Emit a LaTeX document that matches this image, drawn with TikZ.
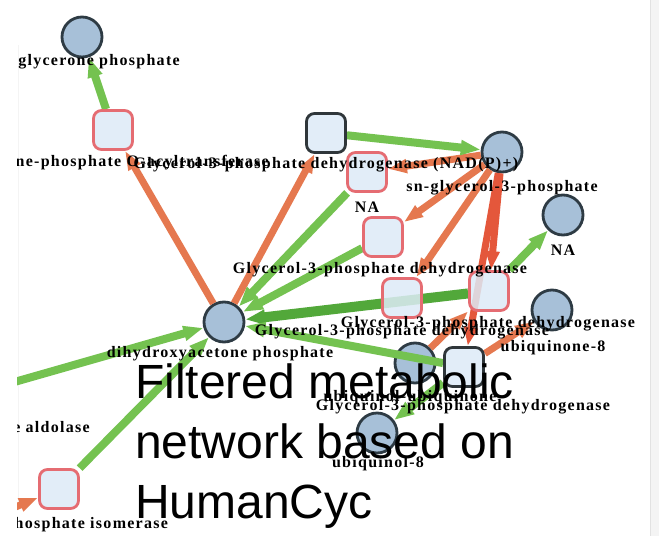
\documentclass[tikz,border=0pt]{standalone}
\usepackage{fontspec}
\setmainfont{Liberation Serif}
\newfontfamily\lblfont{Liberation Serif}[LetterSpace=8]
\newfontfamily\titlefont{Liberation Sans}
\usetikzlibrary{arrows.meta}

\definecolor{metfill}{HTML}{A7C0D8}
\definecolor{metline}{HTML}{2E3B44}
\definecolor{enzfill}{HTML}{DDEBF7}
\definecolor{enzred}{HTML}{E56C72}
\definecolor{enzdark}{HTML}{2F363A}
\definecolor{edgegreen}{HTML}{74C250}
\definecolor{greendark}{HTML}{52A83A}
\definecolor{edgeorange}{HTML}{E5784F}
\definecolor{redorange}{HTML}{E4573B}
\definecolor{panelgray}{HTML}{F4F4F4}
\definecolor{panelline}{HTML}{E2E2E2}

\tikzset{
  met/.style={circle, draw=metline, fill=metfill, line width=2.8pt,
    minimum size=40pt, inner sep=0pt},
  enz/.style={rectangle, rounded corners=8pt, draw=enzred, fill=enzfill,
    fill opacity=0.85, draw opacity=1, line width=2.8pt, minimum size=39pt, inner sep=0pt},
  enzdk/.style={enz, draw=enzdark},
  lbl/.style={inner sep=0pt, text=black,
    font=\lblfont\bfseries\fontsize{16}{17}\selectfont},
  prod/.style={draw=edgegreen, line width=8pt,
    -{Triangle[length=20pt,width=14pt]}},
  subs/.style={draw=edgeorange, line width=7pt,
    -{Triangle[length=19pt,width=13pt]}},
}

\begin{document}
\begin{tikzpicture}[x=1pt, y=-1pt]
\useasboundingbox (0,0) rectangle (659,536);
\fill[white] (0,0) rectangle (659,536);
% side panel strip and faint frame lines
\fill[panelgray] (650,0) rectangle (659,536);
\draw[panelline, line width=1pt] (650,0) -- (650,536);
\draw[panelline!40, line width=0.6pt] (18,45) -- (18,505);

\begin{scope}
\clip (17,0) rectangle (650,536);

% coordinates of nodes lying outside the panel
\coordinate (aldo) at (-38,397);
\coordinate (gap) at (-40,530);

% metabolites
\node[met] (A) at (82,37) {};
\node[met] (D) at (502,152) {};
\node[met] (G) at (563,215) {};
\node[met] (H) at (224,322) {};
\node[met] (K) at (552,310) {};
\node[met] (L) at (415,363) {};
\node[met] (N) at (377,433) {};

% enzymes (placed now, drawn later on top of the edges)
\path (113,130) coordinate (Bc) (326,133) coordinate (Cc)
      (367,172) coordinate (Ec) (383,237) coordinate (Fc)
      (402,298) coordinate (Ic) (489,291) coordinate (Jc)
      (464,367) coordinate (Mc) (59,489) coordinate (Oc);
\node[enz, draw=none, fill=none] (B) at (Bc) {};
\node[enz, draw=none, fill=none] (C) at (Cc) {};
\node[enz, draw=none, fill=none] (E) at (Ec) {};
\node[enz, draw=none, fill=none] (F) at (Fc) {};
\node[enz, draw=none, fill=none] (I) at (Ic) {};
\node[enz, draw=none, fill=none] (J) at (Jc) {};
\node[enz, draw=none, fill=none] (M) at (Mc) {};
\node[enz, draw=none, fill=none] (O) at (Oc) {};

% substrate edges
\draw[subs] (H) -- (B);
\draw[subs] (H) -- (C);
\draw[subs] (D) -- (E);
\draw[subs] (D) -- (F);
\draw[subs] (D) -- (I);
\draw[subs, draw=redorange] (D) -- (J);
\draw[subs, draw=redorange] (D) -- (M);
\draw[subs] (L) -- (J);
\draw[subs] (M) -- (K);
\draw[subs] (gap) -- (O);

% product edges
\draw[prod] (B) -- (A);
\draw[prod] (C) -- (D);
\draw[prod] (E) -- (H);
\draw[prod] (F) -- (H);
\draw[prod, draw=greendark, line width=10pt] (J) -- (H);
\draw[prod] (O) -- (H);
\draw[prod] (aldo) -- (H);
\draw[prod] (J) -- (G);
\draw[prod] (M) -- (H);
\draw[prod] (M) -- (N);

% enzyme boxes
\node[enz] at (Bc) {};
\node[enzdk] at (Cc) {};
\node[enz] at (Ec) {};
\node[enz] at (Fc) {};
\node[enz] at (Ic) {};
\node[enz] at (Jc) {};
\node[enzdk] at (Mc) {};
\node[enz] at (Oc) {};

% labels
\node[lbl] (lA) at (99,62) {glycerone phosphate};
\node[lbl] (lB) at (113,163) {glycerone-phosphate O-acyltransferase};
\node[lbl] (lC) at (326,165) {Glycerol-3-phosphate dehydrogenase (NAD(P)+)};
\node[lbl] (lD) at (502,188) {sn-glycerol-3-phosphate};
\node[lbl] (lE) at (367,207) {NA};
\node[lbl] (lF) at (380,270) {Glycerol-3-phosphate dehydrogenase};
\node[lbl] (lG) at (563,250) {NA};
\node[lbl] (lH) at (220,354) {dihydroxyacetone phosphate};
\node[lbl] (lJ) at (488,324) {Glycerol-3-phosphate dehydrogenase};
\node[lbl] (lI) at (402,332) {Glycerol-3-phosphate dehydrogenase};
\node[lbl] (lK) at (553,348) {ubiquinone-8};
\node[lbl] (lL) at (410,398) {ubiquinol-ubiquinone};
\node[lbl] (lM) at (463,407) {Glycerol-3-phosphate dehydrogenase};
\node[lbl] (lN) at (378,464) {ubiquinol-8};
\node[lbl] (lO) at (60,525) {triose-phosphate isomerase};
\node[lbl, anchor=east] (laldo) at (90,429) {fructose-bisphosphate aldolase};
\end{scope}

% caption
\node[anchor=north west, inner sep=0pt, align=left,
      font=\titlefont\fontsize{48}{60}\selectfont] (title) at (135,364)
  {Filtered metabolic\\network based on\\HumanCyc};
\end{tikzpicture}
\end{document}
